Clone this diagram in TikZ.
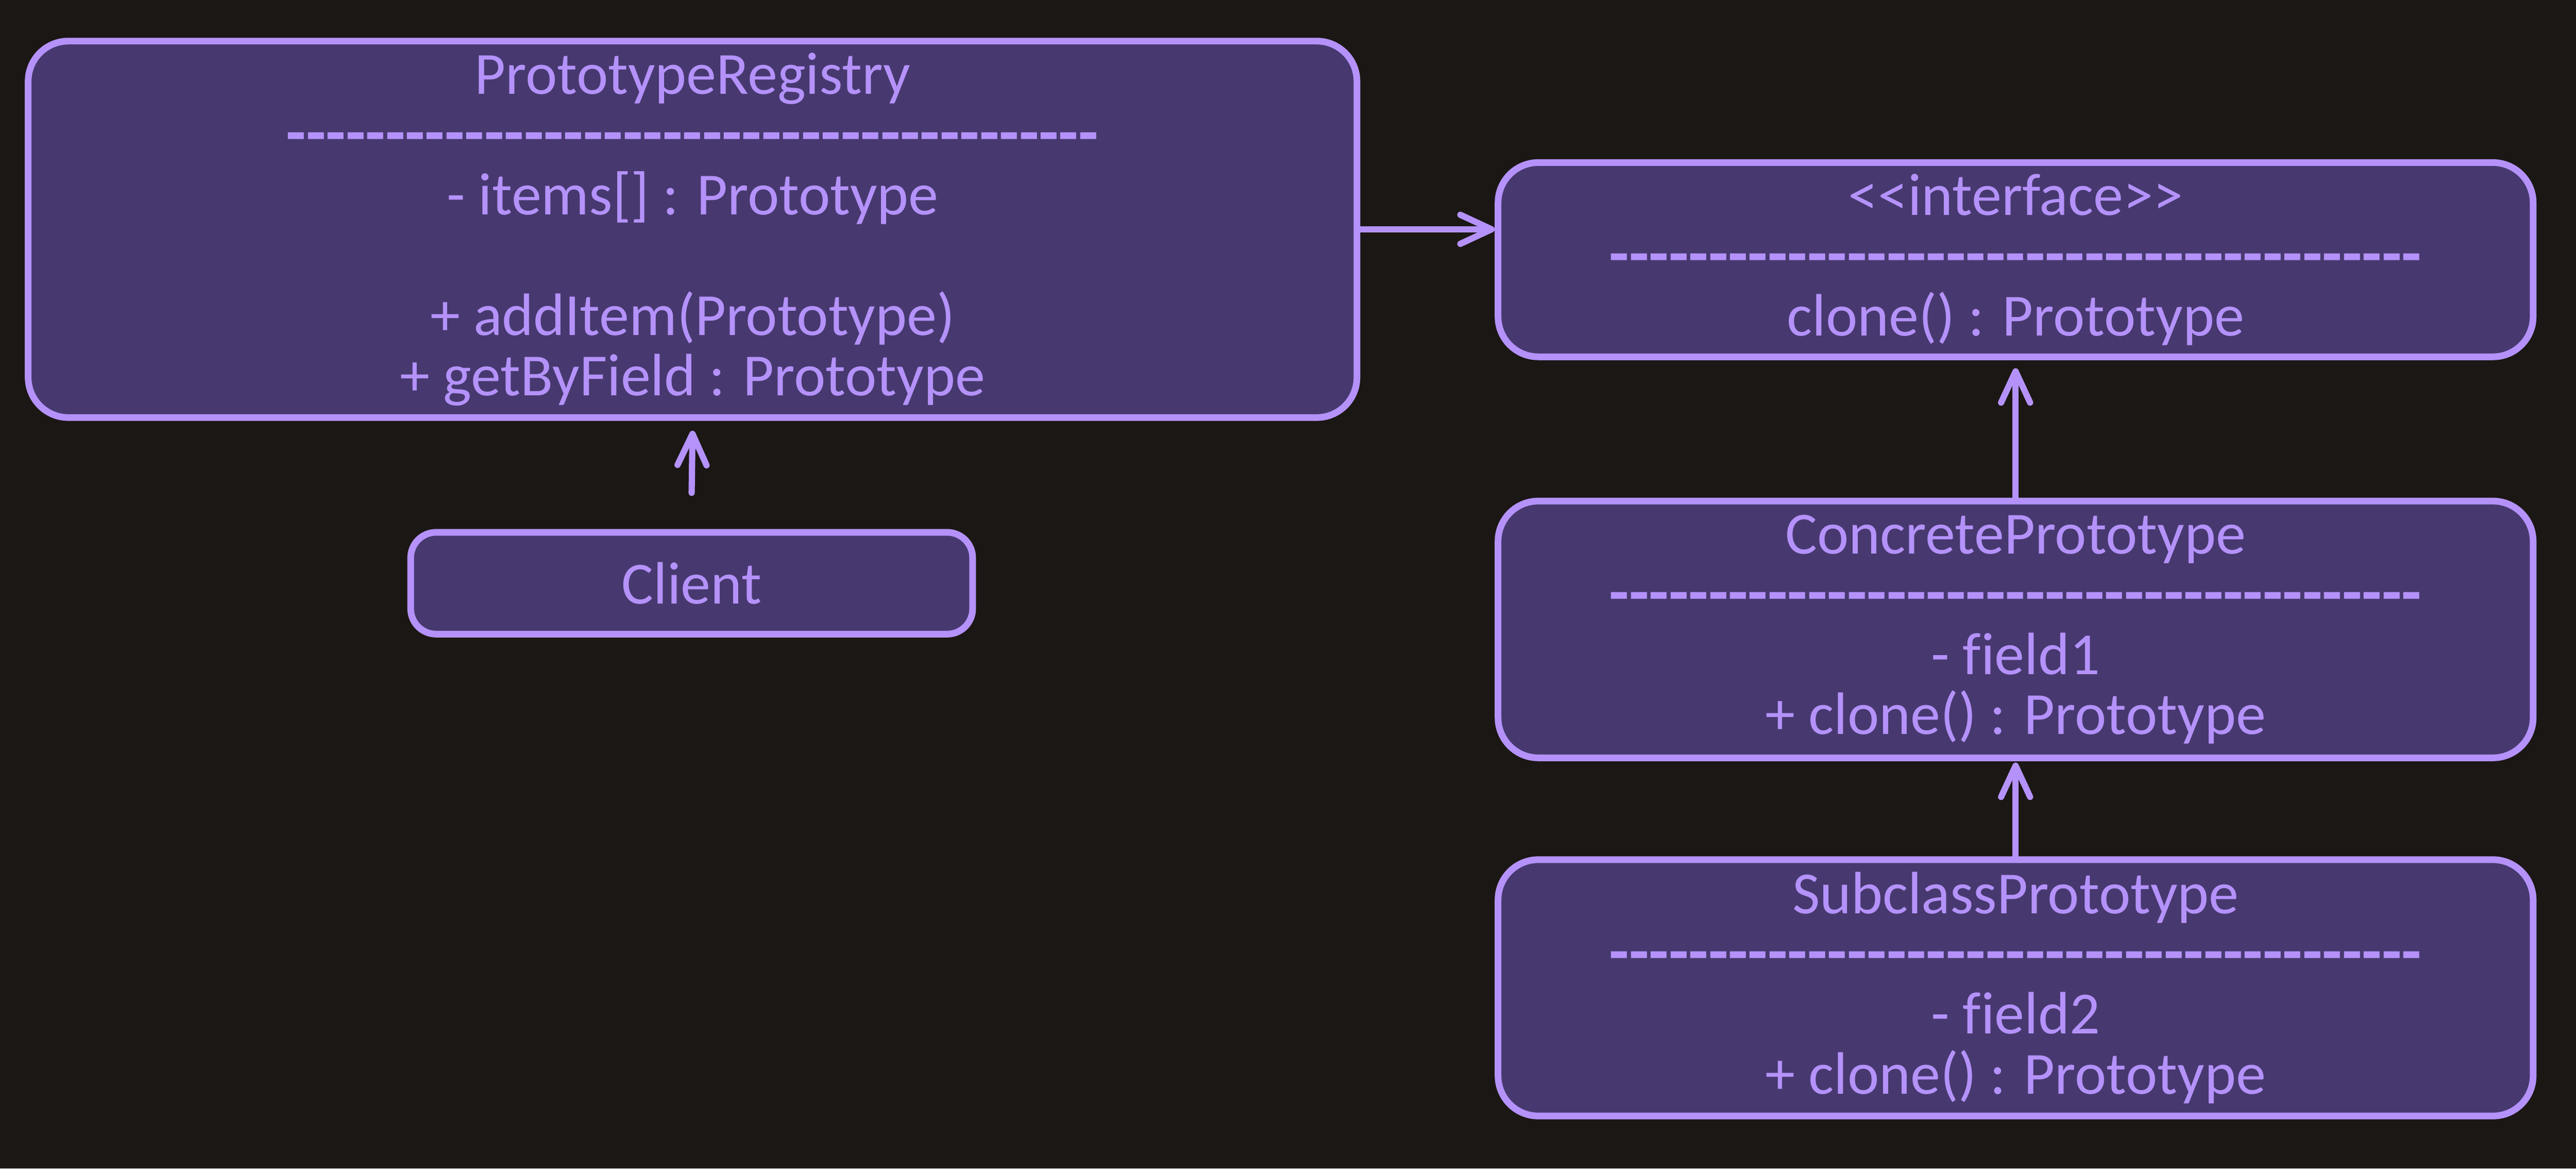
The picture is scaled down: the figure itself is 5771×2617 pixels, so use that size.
\documentclass[tikz,border=0pt]{standalone}
\usepackage{fontspec}
\setmainfont{Carlito}[Ligatures={TeXOff,NoCommon}]
\newfontfamily\dashfont{Carlito}[Ligatures={TeXOff,NoCommon}]
\usetikzlibrary{arrows.meta}
\definecolor{bgc}{HTML}{1B1714}
\definecolor{fillc}{HTML}{47396F}
\definecolor{strokec}{HTML}{B492FA}
\newcommand{\dashrow}{{\dashfont\bfseries\fontsize{14.5}{13.5}\selectfont -----------------------------------------}}
\begin{document}
\begin{tikzpicture}[x=0.1pt,y=-0.1pt,
  umlbox/.style={draw=strokec, fill=fillc, line width=1.5pt, rounded corners=9pt,
    text=strokec, align=center, inner sep=0pt, font=\fontsize{13.4}{13.5}\selectfont},
  link/.style={draw=strokec, line width=1.4pt, line cap=round,
    -{Straight Barb[length=7pt,width=6.5pt,line cap=round,line join=round]}}]
\fill[bgc] (0,0) rectangle (5771,2617);
\useasboundingbox (0,0) rectangle (5771,2617);

\node[umlbox, minimum width=297.7pt, minimum height=84.3pt] (reg) at (1551.5,513.5)
  {PrototypeRegistry\\ \dashrow\\ - items[] : Prototype\\ \mbox{}\\ + addItem(Prototype)\\ + getByField : Prototype};
\node[umlbox, rounded corners=5.7pt, minimum width=125.9pt, minimum height=22.8pt] (client) at (1549.5,1306) {Client};
\node[umlbox, minimum width=231.9pt, minimum height=43.5pt] (iface) at (4515.5,581.5)
  {<<interface>>\\ \dashrow\\ clone() : Prototype};
\node[umlbox, minimum width=231.9pt, minimum height=57.5pt] (conc) at (4515.5,1409.5)
  {ConcretePrototype\\ \dashrow\\ - field1\\ + clone() : Prototype};
\node[umlbox, minimum width=231.9pt, minimum height=57.4pt] (sub) at (4515.5,2212)
  {SubclassPrototype\\ \dashrow\\ - field2\\ + clone() : Prototype};

\draw[link] (reg.east) -- (reg.east -| iface.west);
\draw[link] ([yshift=8.1pt]client.north) -- ([yshift=-2.2pt]reg.south);
\draw[link] (conc.north) -- ([yshift=-1.8pt]iface.south);
\draw[link] (sub.north) -- ([yshift=-0.3pt]conc.south);
\end{tikzpicture}
\end{document}
